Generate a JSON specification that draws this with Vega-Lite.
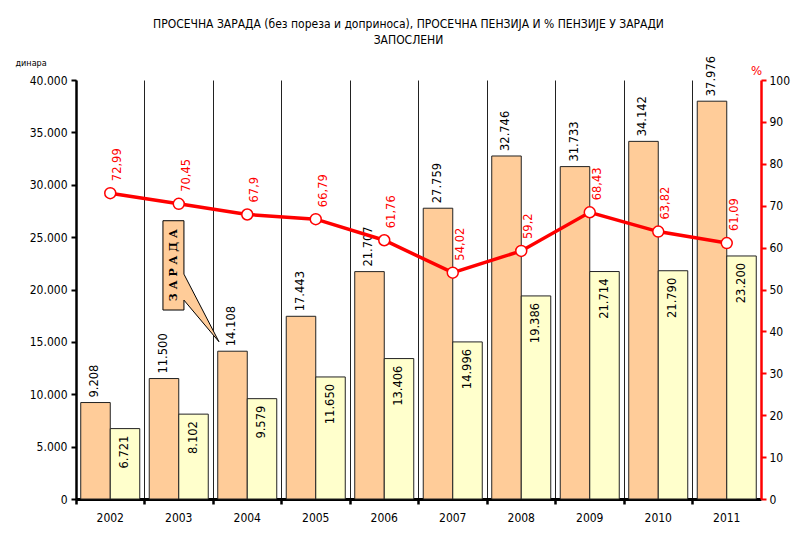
{
  "$schema": "https://vega.github.io/schema/vega-lite/v6.json",
  "width": 685,
  "height": 419,
  "autosize": {"type": "none"},
  "padding": {"left": 76, "top": 80, "right": 44, "bottom": 43},
  "background": "white",
  "title": {
    "text": ["ПРОСЕЧНА ЗАРАДА (без пореза и доприноса), ПРОСЕЧНА ПЕНЗИЈА И % ПЕНЗИЈЕ У ЗАРАДИ", "ЗАПОСЛЕНИ"],
    "font": "DejaVu Sans Condensed, Liberation Sans Narrow, DejaVu Sans, sans-serif",
    "fontSize": 12,
    "fontWeight": "normal",
    "lineHeight": 16,
    "offset": 9,
    "dx": -10,
    "color": "black"
  },
  "datasets": {
    "main": [
      {"year": "2002", "salary": 9208, "pension": 6721, "pct": 72.99},
      {"year": "2003", "salary": 11500, "pension": 8102, "pct": 70.45},
      {"year": "2004", "salary": 14108, "pension": 9579, "pct": 67.9},
      {"year": "2005", "salary": 17443, "pension": 11650, "pct": 66.79},
      {"year": "2006", "salary": 21707, "pension": 13406, "pct": 61.76},
      {"year": "2007", "salary": 27759, "pension": 14996, "pct": 54.02},
      {"year": "2008", "salary": 32746, "pension": 19386, "pct": 59.2},
      {"year": "2009", "salary": 31733, "pension": 21714, "pct": 68.43},
      {"year": "2010", "salary": 34142, "pension": 21790, "pct": 63.82},
      {"year": "2011", "salary": 37976, "pension": 23200, "pct": 61.09}
    ],
    "note": [{"year": "2003", "value": 25000, "label": "З А Р А Д А"}]
  },
  "layer": [
    {
      "layer": [
        {
          "data": {"name": "main"},
          "transform": [{"fold": ["salary", "pension"], "as": ["series", "value"]}],
          "mark": {"type": "bar", "stroke": "#222222", "strokeWidth": 1},
          "encoding": {
            "x": {
              "field": "year", "type": "nominal",
              "scale": {"paddingInner": 0, "paddingOuter": 0},
              "axis": {
                "title": null, "labelAngle": 0, "bandPosition": 0,
                "grid": true, "gridColor": "#222222", "gridWidth": 1,
                "domainColor": "black", "domainWidth": 3,
                "tickColor": "black", "tickWidth": 2.5, "tickSize": 5,
                "labelPadding": 8, "labelFontSize": 12
              }
            },
            "xOffset": {"field": "series", "sort": ["salary", "pension"], "scale": {"paddingOuter": 0.161, "paddingInner": 0}},
            "y": {
              "field": "value", "type": "quantitative",
              "scale": {"domain": [0, 40000], "nice": false},
              "axis": {
                "values": [0, 5000, 10000, 15000, 20000, 25000, 30000, 35000, 40000],
                "format": ",d", "grid": false,
                "domainColor": "black", "domainWidth": 2.5,
                "tickColor": "black", "tickWidth": 2, "tickSize": 5,
                "labelPadding": 4, "labelFontSize": 12,
                "title": "динара", "titleAngle": 0, "titleAlign": "left", "titleBaseline": "middle",
                "titleX": -61, "titleY": -18, "titleFontSize": 9, "titleFontWeight": "normal"
              }
            },
            "color": {"field": "series", "scale": {"domain": ["salary", "pension"], "range": ["#FFCC99", "#FFFFCC"]}, "legend": null}
          }
        },
        {
          "data": {"name": "main"},
          "transform": [{"fold": ["salary", "pension"], "as": ["series", "value"]}, {"filter": "datum.series === 'salary'"}],
          "mark": {"type": "text", "angle": 270, "align": "left", "baseline": "middle", "dx": 5, "font": "DejaVu Sans", "fontSize": 11.5, "color": "black"},
          "encoding": {
            "x": {"field": "year", "type": "nominal"},
            "xOffset": {"field": "series", "sort": ["salary", "pension"]},
            "y": {"field": "value", "type": "quantitative"},
            "text": {"field": "value", "type": "quantitative", "format": ",d"}
          }
        },
        {
          "data": {"name": "main"},
          "transform": [{"fold": ["salary", "pension"], "as": ["series", "value"]}, {"filter": "datum.series === 'pension'"}],
          "mark": {"type": "text", "angle": 270, "align": "right", "baseline": "middle", "dx": -7, "font": "DejaVu Sans", "fontSize": 11.5, "color": "black"},
          "encoding": {
            "x": {"field": "year", "type": "nominal"},
            "xOffset": {"field": "series", "sort": ["salary", "pension"]},
            "y": {"field": "value", "type": "quantitative"},
            "text": {"field": "value", "type": "quantitative", "format": ",d"}
          }
        },
        {
          "data": {"name": "note"},
          "mark": {
            "type": "point", "filled": true, "opacity": 1, "fill": "#FFCC99", "stroke": "black", "strokeWidth": 1,
            "size": 40000,
            "shape": "M-0.158,-0.164L0.052,-0.164L0.052,0.37L0.402,1.046L0.052,0.63L0.052,0.729L-0.158,0.729Z"
          },
          "encoding": {
            "x": {"field": "year", "type": "nominal"},
            "y": {"field": "value", "type": "quantitative"}
          }
        },
        {
          "data": {"name": "note"},
          "mark": {"type": "text", "angle": 270, "align": "center", "baseline": "middle", "dx": -28, "dy": -5, "font": "DejaVu Serif", "fontWeight": "bold", "fontSize": 11, "color": "black"},
          "encoding": {
            "x": {"field": "year", "type": "nominal"},
            "y": {"field": "value", "type": "quantitative"},
            "text": {"field": "label"}
          }
        }
      ]
    },
    {
      "data": {"name": "main"},
      "encoding": {
        "x": {"field": "year", "type": "nominal"},
        "y": {
          "field": "pct", "type": "quantitative",
          "scale": {"domain": [0, 100], "nice": false},
          "axis": {
            "orient": "right",
            "values": [0, 10, 20, 30, 40, 50, 60, 70, 80, 90, 100],
            "grid": false,
            "domainColor": "#FF0000", "domainWidth": 2.5,
            "tickColor": "#FF0000", "tickWidth": 2, "tickSize": 5,
            "labelPadding": 3, "labelFontSize": 12,
            "title": "%", "titleAngle": 0, "titleAlign": "center", "titleBaseline": "middle",
            "titleX": -5, "titleY": -10, "titleFontSize": 13, "titleFontWeight": "normal", "titleColor": "#FF0000"
          }
        }
      },
      "layer": [
        {"mark": {"type": "line", "color": "#FF0000", "strokeWidth": 3.5}},
        {"mark": {"type": "point", "filled": true, "opacity": 1, "fill": "white", "stroke": "#FF0000", "strokeWidth": 1.5, "size": 120}},
        {
          "mark": {"type": "text", "angle": 270, "align": "left", "baseline": "middle", "dx": 12, "dy": 8, "font": "DejaVu Sans", "fontSize": 11.5, "color": "#FF0000"},
          "encoding": {"text": {"field": "pct", "type": "quantitative", "format": ".2~f"}}
        }
      ]
    }
  ],
  "resolve": {"scale": {"y": "independent"}},
  "config": {
    "locale": {"number": {"decimal": ",", "thousands": ".", "grouping": [3], "currency": ["", ""]}},
    "view": {"stroke": null},
    "axis": {
      "labelFont": "DejaVu Sans Condensed, Liberation Sans Narrow, DejaVu Sans, sans-serif",
      "titleFont": "DejaVu Sans Condensed, Liberation Sans Narrow, DejaVu Sans, sans-serif",
      "labelColor": "black",
      "titleColor": "black"
    }
  }
}
